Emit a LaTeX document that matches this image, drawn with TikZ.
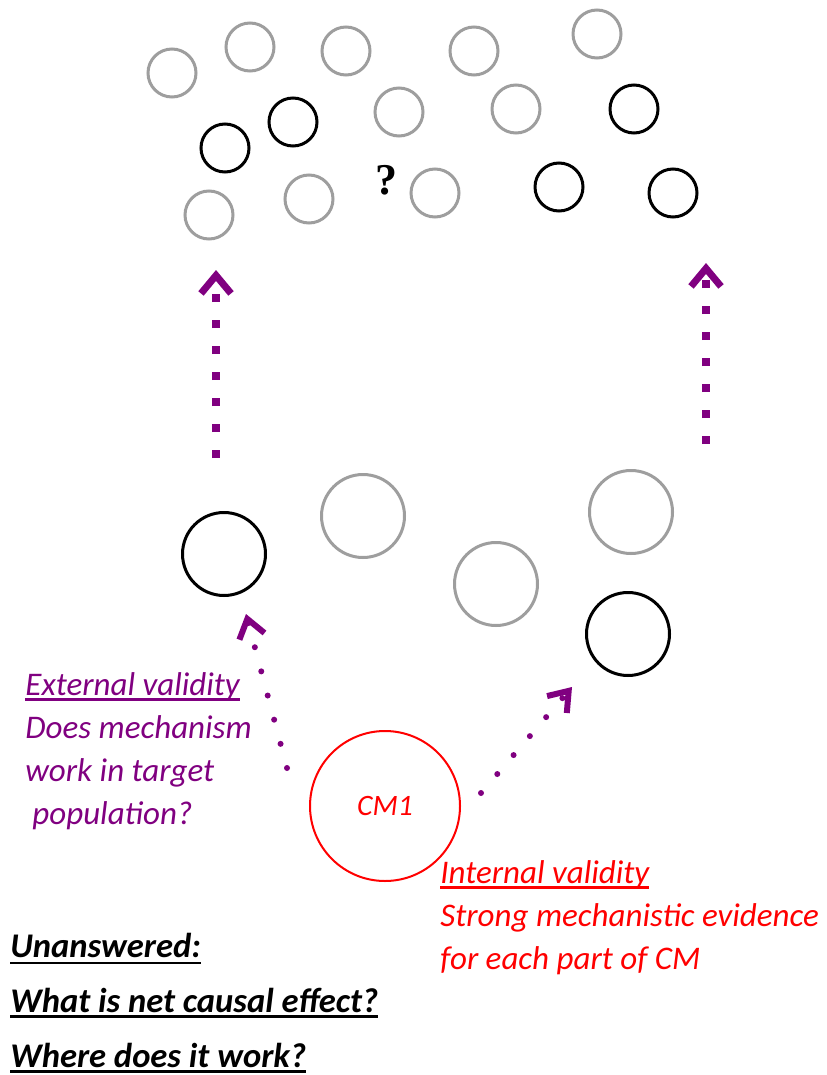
\documentclass[tikz,border=0pt]{standalone}
\usepackage{fontspec}
\setmainfont{Carlito}
\newfontfamily\qfont{Liberation Serif}
\usetikzlibrary{arrows.meta}
\definecolor{ringgray}{RGB}{158,158,158}
\definecolor{mechpurple}{RGB}{128,0,128}
\newsavebox{\ulbox}
\newlength{\uldepth}
\setlength{\uldepth}{2.8pt}
\newcommand{\ulined}[1]{\sbox{\ulbox}{#1}\rlap{\rule[-\uldepth]{\wd\ulbox}{1.4pt}}\usebox{\ulbox}}

\begin{document}
\begin{tikzpicture}[x=0.5pt, y=-0.5pt,
    ring/.style={circle, draw=ringgray, line width=1.5pt, minimum size=24pt, inner sep=0pt},
    darkring/.style={ring, draw=black},
    bigring/.style={ring, minimum size=41.5pt},
    bigdark/.style={bigring, draw=black},
    vdots/.style={draw=mechpurple, line width=4pt, dash pattern=on 4pt off 9pt,
      -{Straight Barb[length=9pt, width=15pt, line width=3.5pt]}},
    ddots/.style={draw=mechpurple, line width=3pt, line cap=round, dash pattern=on 0pt off 12.5pt,
      -{Straight Barb[length=9pt, width=13pt, line width=3pt]}},
    note/.style={anchor=base west, align=left, inner sep=0pt, font=\itshape\fontsize{16.5}{21.5}\selectfont}
  ]
  \useasboundingbox (0,0) rectangle (826,1075);

  % target population
  \foreach \x/\y/\s [count=\i] in {172/73/ring, 250/47/ring, 346/51/ring, 474/51/ring, 597/34/ring,
      225/148/darkring, 293/122/darkring, 399/112/ring, 516/109/ring, 634/109/darkring,
      209/215/ring, 309/199/ring, 435/193/ring, 559/187/darkring, 673/193/darkring}
    \node[\s] (t\i) at (\x,\y) {};
  \node[font=\qfont\bfseries\fontsize{22}{22}\selectfont] (q) at (386,180) {?};

  % study population
  \node[bigdark] (m1) at (224,554) {};
  \node[bigring] (m2) at (363,516) {};
  \node[bigring] (m3) at (496,584) {};
  \node[bigring] (m4) at (631,512) {};
  \node[bigdark] (m5) at (628,634) {};

  \node[circle, draw=red, line width=1pt, minimum size=75pt, text=red,
    font=\itshape\fontsize{14.8}{14.8}\selectfont] (cm1) at (385,806) {CM1};

  \coordinate (leftS) at (216,458);
  \coordinate (leftE) at (216,270);
  \coordinate (rightS) at (706,444);
  \coordinate (rightE) at (706,263);
  \coordinate (extS) at (287,768);
  \coordinate (extE) at (246,614);
  \coordinate (intS) at (481,793);
  \coordinate (intE) at (572,687);

  \draw[vdots] (leftS) -- (leftE);
  \draw[vdots] (rightS) -- (rightE);
  \draw[ddots] (extS) -- (extE);
  \draw[ddots] (intS) -- (intE);

  % anchors sit on the last baseline
  \node[note, text=mechpurple] (ext) at (25,824)
    {\ulined{External validity}\\Does mechanism\\work in target\\\hspace{3.5pt}population?};
  \node[note, text=red] (int) at (440,969)
    {\ulined{Internal validity}\\Strong mechanistic evidence\\for each part of CM};
  \node[note, font=\bfseries\itshape\fontsize{17.3}{27.5}\selectfont] (open) at (10,1067)
    {\setlength{\uldepth}{3.7pt}\ulined{Unanswered:}\\\ulined{What is net causal effect?}\\\ulined{Where does it work?}};
\end{tikzpicture}
\end{document}
